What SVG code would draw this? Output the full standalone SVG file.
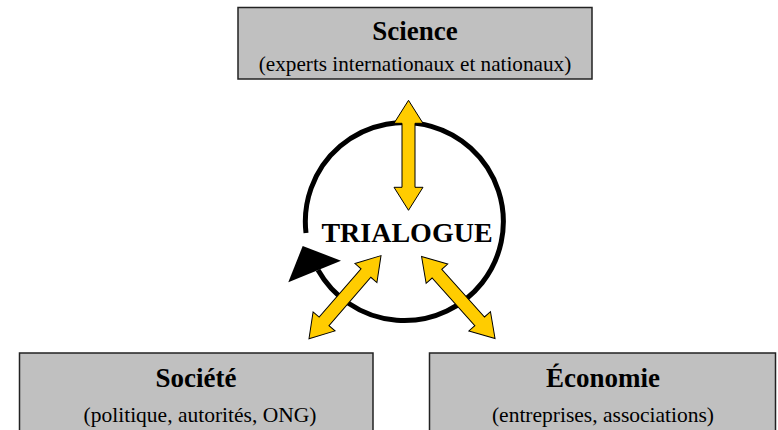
<svg xmlns="http://www.w3.org/2000/svg" width="778" height="430" viewBox="0 0 778 430">
  <style>
    .box { fill: #C0C0C0; stroke: #222; stroke-width: 1.5; }
    .title { font-family: "Liberation Serif", "Times New Roman", serif; font-weight: bold; font-size: 27px; fill: #000; text-anchor: middle; }
    .sub { font-family: "Liberation Serif", "Times New Roman", serif; font-size: 21.5px; fill: #000; text-anchor: middle; }
    .dbl { fill: #FFCC00; stroke: #000; stroke-width: 1; stroke-linejoin: miter; }
    .ring { fill: none; stroke: #000; stroke-width: 5; }
  </style>
  <defs>
    <path id="dblarrow" d="M -55 0 L -32 -14.5 L -32 -6.5 L 32 -6.5 L 32 -14.5 L 55 0 L 32 14.5 L 32 6.5 L -32 6.5 L -32 14.5 Z"/>
  </defs>
  <rect width="778" height="430" fill="#fff"/>

  <g id="connectors">
    <path class="ring" d="M 306 233 A 99 99 0 1 1 318 270"/>
    <polygon points="302.7,246 341,260.7 288.3,282.3" fill="#000"/>
    <use href="#dblarrow" class="dbl" transform="translate(408.5,155.3) rotate(90)"/>
    <use href="#dblarrow" class="dbl" transform="translate(345,297.2) rotate(130.9)"/>
    <use href="#dblarrow" class="dbl" transform="translate(458.3,297.5) rotate(48.1)"/>
  </g>

  <g id="science">
    <rect class="box" x="238" y="7.5" width="354" height="71.5"/>
    <text class="title" x="415" y="40">Science</text>
    <text class="sub" x="415" y="70.5" style="font-size:21.2px">(experts internationaux et nationaux)</text>
  </g>

  <g id="trialogue">
    <text class="title" x="407" y="241.5" style="font-size:28px">TRIALOGUE</text>
  </g>

  <g id="societe">
    <rect class="box" x="19.5" y="353" width="353.5" height="80"/>
    <text class="title" x="196" y="387">Société</text>
    <text class="sub" x="200" y="422">(politique, autorités, ONG)</text>
  </g>

  <g id="economie">
    <rect class="box" x="429.5" y="353" width="346" height="80"/>
    <text class="title" x="603" y="387">Économie</text>
    <text class="sub" x="603" y="422">(entreprises, associations)</text>
  </g>
</svg>
